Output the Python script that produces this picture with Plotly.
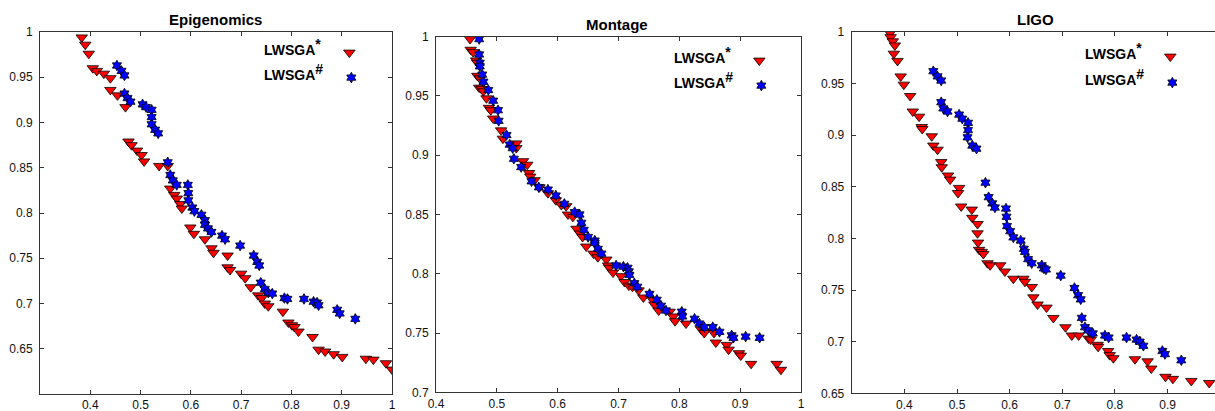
import plotly.graph_objects as go

# ---------------- data ----------------
panel_titles = ["Epigenomics", "Montage", "LIGO"]
series_names = ['LWSGA<sup><span style="font-size:14px">*</span></sup>',
                'LWSGA<sup><span style="font-size:14px">#</span></sup>']

epi_star_x = [0.383,0.390,0.397,0.405,0.413,0.427,0.440,0.440,0.454,0.470,0.476,0.482,0.493,0.502,0.507,0.537,0.554,0.559,0.567,0.572,0.579,0.582,0.599,0.606,0.628,0.641,0.645,0.673,0.673,0.678,0.700,0.708,0.719,0.734,0.741,0.747,0.754,0.783,0.794,0.801,0.806,0.814,0.842,0.854,0.867,0.884,0.901,0.948,0.963,0.988,1.000]
epi_star_y = [0.994,0.986,0.976,0.960,0.957,0.954,0.949,0.936,0.930,0.917,0.879,0.875,0.869,0.864,0.857,0.852,0.852,0.827,0.820,0.816,0.810,0.805,0.784,0.777,0.771,0.761,0.756,0.753,0.740,0.737,0.733,0.728,0.718,0.709,0.706,0.700,0.697,0.691,0.679,0.676,0.674,0.669,0.663,0.649,0.647,0.644,0.641,0.639,0.638,0.634,0.627]
epi_hash_x = [0.453,0.462,0.468,0.468,0.474,0.480,0.504,0.511,0.522,0.522,0.522,0.529,0.535,0.554,0.559,0.564,0.572,0.594,0.595,0.595,0.603,0.607,0.621,0.628,0.628,0.634,0.641,0.662,0.668,0.698,0.725,0.732,0.736,0.739,0.747,0.754,0.762,0.786,0.792,0.825,0.844,0.851,0.854,0.891,0.896,0.927]
epi_hash_y = [0.963,0.957,0.952,0.932,0.927,0.923,0.920,0.917,0.914,0.906,0.898,0.892,0.888,0.856,0.842,0.836,0.831,0.831,0.822,0.814,0.806,0.802,0.798,0.792,0.787,0.783,0.779,0.775,0.771,0.764,0.753,0.746,0.742,0.723,0.716,0.712,0.711,0.706,0.705,0.705,0.702,0.701,0.698,0.693,0.689,0.683]

mon_star_x = [0.456,0.457,0.461,0.466,0.468,0.468,0.472,0.471,0.475,0.478,0.483,0.487,0.490,0.494,0.507,0.510,0.532,0.532,0.543,0.550,0.553,0.555,0.562,0.570,0.584,0.597,0.606,0.614,0.617,0.625,0.631,0.637,0.641,0.647,0.659,0.666,0.680,0.683,0.685,0.691,0.704,0.710,0.717,0.723,0.733,0.741,0.756,0.759,0.766,0.784,0.790,0.793,0.811,0.836,0.841,0.857,0.860,0.878,0.881,0.898,0.901,0.918,0.960,0.967]
mon_star_y = [0.998,0.989,0.987,0.980,0.978,0.967,0.965,0.957,0.956,0.954,0.948,0.940,0.938,0.931,0.921,0.914,0.910,0.906,0.895,0.892,0.885,0.882,0.879,0.873,0.868,0.862,0.858,0.857,0.850,0.848,0.838,0.834,0.831,0.823,0.817,0.814,0.812,0.807,0.805,0.801,0.798,0.793,0.790,0.789,0.786,0.780,0.778,0.774,0.769,0.768,0.764,0.760,0.758,0.753,0.750,0.750,0.742,0.740,0.736,0.733,0.731,0.724,0.724,0.719]
mon_hash_x = [0.471,0.471,0.472,0.472,0.476,0.478,0.486,0.494,0.502,0.503,0.516,0.521,0.526,0.528,0.540,0.557,0.569,0.584,0.597,0.611,0.628,0.636,0.639,0.643,0.650,0.661,0.661,0.666,0.672,0.696,0.708,0.715,0.717,0.718,0.726,0.731,0.751,0.763,0.770,0.778,0.804,0.805,0.825,0.833,0.841,0.855,0.866,0.886,0.889,0.909,0.932]
mon_hash_y = [0.998,0.985,0.978,0.975,0.968,0.962,0.955,0.946,0.938,0.929,0.917,0.909,0.906,0.897,0.890,0.878,0.873,0.871,0.866,0.859,0.852,0.850,0.843,0.837,0.831,0.828,0.826,0.821,0.817,0.807,0.806,0.805,0.802,0.799,0.792,0.789,0.783,0.778,0.773,0.769,0.768,0.764,0.762,0.758,0.755,0.755,0.751,0.748,0.746,0.747,0.746]

ligo_star_x = [0.373,0.374,0.378,0.382,0.380,0.387,0.393,0.399,0.411,0.416,0.428,0.433,0.434,0.452,0.455,0.463,0.470,0.471,0.483,0.487,0.504,0.502,0.508,0.528,0.529,0.539,0.539,0.540,0.542,0.547,0.550,0.558,0.563,0.582,0.591,0.607,0.626,0.629,0.642,0.645,0.653,0.670,0.683,0.706,0.718,0.731,0.750,0.754,0.767,0.768,0.787,0.790,0.797,0.838,0.862,0.869,0.896,0.910,0.945,0.979]
ligo_star_y = [0.999,0.995,0.991,0.987,0.979,0.972,0.957,0.949,0.938,0.923,0.918,0.908,0.906,0.899,0.890,0.886,0.874,0.869,0.861,0.857,0.849,0.844,0.831,0.828,0.820,0.814,0.805,0.796,0.789,0.787,0.785,0.776,0.774,0.774,0.768,0.761,0.761,0.758,0.753,0.743,0.736,0.733,0.723,0.714,0.706,0.706,0.703,0.702,0.697,0.695,0.691,0.687,0.684,0.683,0.681,0.674,0.666,0.664,0.662,0.660]
ligo_hash_x = [0.455,0.463,0.470,0.470,0.474,0.482,0.504,0.510,0.521,0.521,0.520,0.529,0.537,0.554,0.560,0.567,0.572,0.593,0.594,0.595,0.601,0.607,0.621,0.627,0.629,0.635,0.642,0.661,0.665,0.669,0.697,0.723,0.730,0.735,0.737,0.743,0.749,0.758,0.781,0.788,0.822,0.841,0.847,0.854,0.890,0.895,0.926]
ligo_hash_y = [0.962,0.957,0.953,0.932,0.926,0.923,0.920,0.916,0.912,0.905,0.898,0.890,0.887,0.854,0.840,0.834,0.830,0.829,0.821,0.812,0.807,0.801,0.798,0.790,0.787,0.780,0.776,0.774,0.771,0.770,0.764,0.752,0.745,0.741,0.723,0.714,0.711,0.708,0.706,0.704,0.704,0.702,0.700,0.696,0.691,0.688,0.682]

x_ranges = [[0.3, 1.0], [0.4, 1.0], [0.3, 0.99]]
y_ranges = [[0.6, 1.0], [0.7, 1.0], [0.65, 1.0]]
x_ticks = [[0.4,0.5,0.6,0.7,0.8,0.9,1.0], [0.4,0.5,0.6,0.7,0.8,0.9,1.0], [0.4,0.5,0.6,0.7,0.8,0.9]]
x_ticktext = [["0.4","0.5","0.6","0.7","0.8","0.9","1"], ["0.4","0.5","0.6","0.7","0.8","0.9","1"], ["0.4","0.5","0.6","0.7","0.8","0.9"]]
y_ticks = [[0.65,0.7,0.75,0.8,0.85,0.9,0.95,1.0], [0.7,0.75,0.8,0.85,0.9,0.95,1.0], [0.65,0.7,0.75,0.8,0.85,0.9,0.95,1.0]]
y_ticktext = [["0.65","0.7","0.75","0.8","0.85","0.9","0.95","1"], ["0.7","0.75","0.8","0.85","0.9","0.95","1"], ["0.65","0.7","0.75","0.8","0.85","0.9","0.95","1"]]

# ---------------- layout geometry (pixels) ----------------
W, H = 1215, 411
px_x = [(40, 392), (436, 801), (851.7, 1215)]
px_y = [(32, 394), (36.7, 392.3), (32, 393.3)]
title_pos = [(215, 19), (617, 24), (1035, 19)]
legend_left = [262, 672, 1083]
legend_rows = [(53, 78), (61, 86), (57, 83)]

data = [
    (epi_star_x, epi_star_y, epi_hash_x, epi_hash_y),
    (mon_star_x, mon_star_y, mon_hash_x, mon_hash_y),
    (ligo_star_x, ligo_star_y, ligo_hash_x, ligo_hash_y),
]

FONT = "Liberation Sans, Arial, sans-serif"
fig = go.Figure()
layout = dict(width=W, height=H, margin=dict(l=0, r=0, t=0, b=0, autoexpand=False),
              showlegend=True,
              paper_bgcolor="white", plot_bgcolor="white", annotations=[])

legend_idx = 0
for i in range(3):
    sx, sy, hx, hy = data[i]
    xa = "x" if i == 0 else f"x{i+1}"
    ya = "y" if i == 0 else f"y{i+1}"
    lg1 = "legend" if legend_idx == 0 else f"legend{legend_idx+1}"
    lg2 = f"legend{legend_idx+2}"
    fig.add_trace(go.Scatter(
        x=sx, y=sy, mode="markers", xaxis=xa, yaxis=ya, name=" ",
        legend=lg1, showlegend=True,
        marker=dict(symbol="triangle-down", size=10, color="#ff0000",
                    line=dict(color="#000000", width=0.8))))
    fig.add_trace(go.Scatter(
        x=hx, y=hy, mode="markers", xaxis=xa, yaxis=ya, name=" ",
        legend=lg2, showlegend=True,
        marker=dict(symbol="hexagram", size=8, color="#0000ff",
                    line=dict(color="#000000", width=0.8))))
    for k, lg in enumerate([lg1, lg2]):
        layout[lg] = dict(
            x=legend_left[i] / W, xanchor="left",
            y=1 - legend_rows[i][k] / H, yanchor="middle",
            bgcolor="rgba(0,0,0,0)", borderwidth=0,
            font=dict(family=FONT, size=14, color="#000"),
            title=dict(text=series_names[k], side="left",
                       font=dict(family=FONT, size=14, color="#000", weight="bold")),
            itemwidth=30, tracegroupgap=0)
    legend_idx += 2

    xkey = "xaxis" if i == 0 else f"xaxis{i+1}"
    ykey = "yaxis" if i == 0 else f"yaxis{i+1}"
    axis_common = dict(showgrid=False, zeroline=False, showline=True,
                       automargin=False,
                       linecolor="#333", linewidth=1, ticks="inside",
                       ticklen=4, tickcolor="#333",
                       tickfont=dict(family=FONT, size=12, color="#111"))
    layout[xkey] = dict(axis_common, domain=[px_x[i][0] / W, min(px_x[i][1] / W, 1.0)],
                        range=x_ranges[i], anchor=ya, mirror="ticks",
                        ticklabelstandoff=0,
                        tickvals=x_ticks[i], ticktext=x_ticktext[i])
    layout[ykey] = dict(axis_common, domain=[1 - px_y[i][1] / H, 1 - px_y[i][0] / H],
                        range=y_ranges[i], anchor=xa,
                        mirror="ticks" if i < 2 else False,
                        ticklabelstandoff=4,
                        tickvals=y_ticks[i], ticktext=y_ticktext[i])
    layout["annotations"].append(dict(
        text=f"<b>{panel_titles[i]}</b>", xref="paper", yref="paper",
        x=title_pos[i][0] / W, y=1 - title_pos[i][1] / H,
        xanchor="center", yanchor="middle", showarrow=False,
        font=dict(family=FONT, size=15, color="#000")))

fig.update_layout(**layout)
fig.write_html("out.html")
